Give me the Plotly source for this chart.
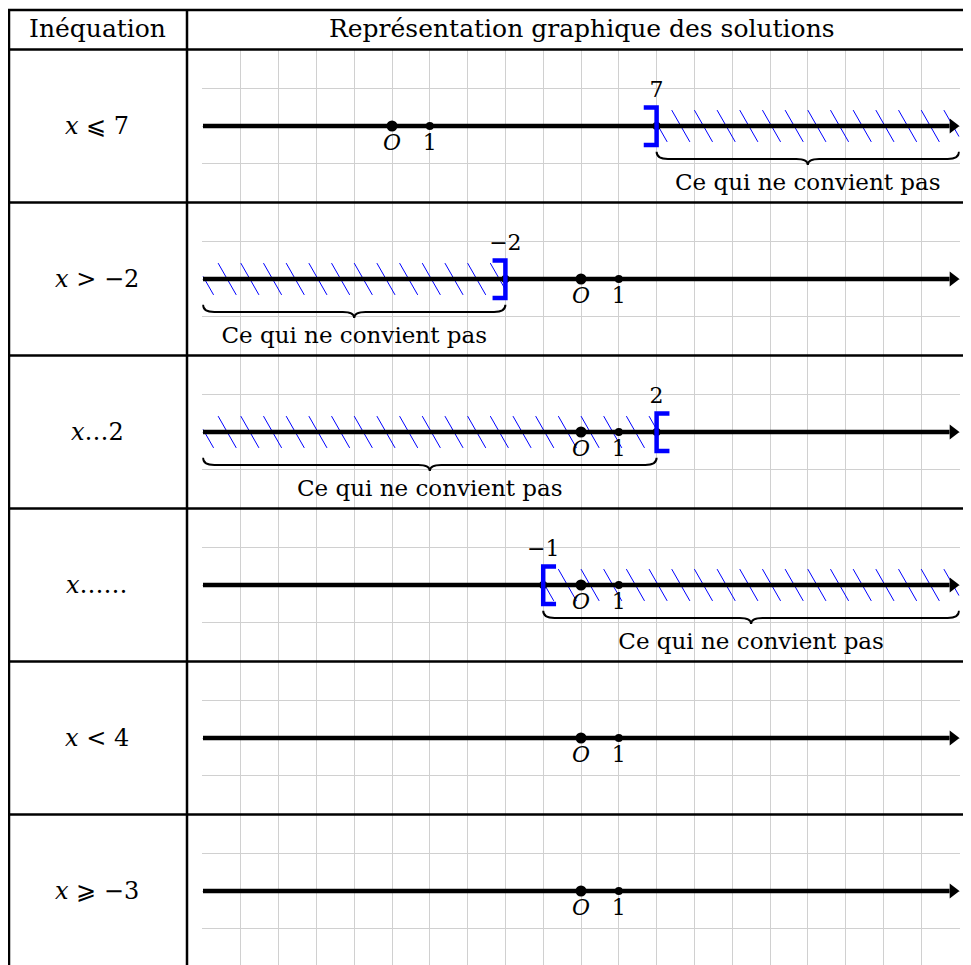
import plotly.graph_objects as go

# --- data -------------------------------------------------------------
header = ["Inéquation", "Représentation graphique des solutions"]
inequations = ["<i>x</i> ⩽ 7", "<i>x</i> &gt; −2", "<i>x</i>…2",
               "<i>x</i>……", "<i>x</i> &lt; 4", "<i>x</i> ⩾ −3"]
axis_min = [-5, -10, -10, -10, -10, -10]
axis_max = [15, 10, 10, 10, 10, 10]
bound_val = [7, -2, 2, -1, None, None]
bound_lbl = ["7", "−2", "2", "−1", None, None]
bracket = ["]", "]", "[", "[", None, None]
bad_from = [7, -10, -10, -1, None, None]
bad_to = [15, -2, 2, 10, None, None]
note = "Ce qui ne convient pas"

# --- geometry (screen pixels, page body adds an 8px margin) -------------
W, H = 971, 965
OFF = 8
unit = 37.8
grid_left, grid_right = 203, 959
col_left, col_mid = 9, 187
table_top, head_bottom = 10, 49.5
row_h = 153.0
row_tops = [head_bottom + i * row_h for i in range(6)]

serif = "DejaVu Serif"
blue = "#0000ff"
dot = dict(color="black", line=dict(width=0))

fig = go.Figure()


def px(v):
    return (v - OFF) / W


def py(v):
    return 1 - (v - OFF) / H


for i in range(6):
    n = "" if i == 0 else str(i + 1)
    xa, ya = "x" + n, "y" + n
    lo, hi = axis_min[i], axis_max[i]
    axis_px = row_tops[i] + 76.5
    top_px = axis_px - 2 * unit
    bot_px = min(axis_px + 2 * unit, H + OFF)
    y_lo = -(bot_px - axis_px) / unit
    pad = 0.02

    fig.layout["xaxis" + n] = dict(
        domain=[px(grid_left - pad * unit), px(grid_right + pad * unit)],
        range=[lo - pad, hi + pad], anchor=ya, dtick=1, tick0=0,
        showgrid=True, gridcolor="#d0d0d0", gridwidth=1, zeroline=False,
        showline=False, showticklabels=False, ticks="", fixedrange=True)
    fig.layout["yaxis" + n] = dict(
        domain=[max(py(bot_px), 0), py(top_px)], range=[y_lo, 2], anchor=xa,
        dtick=1, tick0=0, showgrid=True, gridcolor="#d0d0d0", gridwidth=1,
        zeroline=False, showline=False, showticklabels=False, ticks="",
        fixedrange=True)

    # hatching of the excluded part
    if bad_from[i] is not None:
        s, e = bad_from[i], bad_to[i]
        hx, hy = [], []
        yt, yb, dx, step = 0.42, -0.42, 0.48, 0.6
        k = -1
        while True:
            x0 = s + 0.4 + k * step
            if x0 > e:
                break
            x1 = x0 + dx
            # clip the segment to [s, e]
            a0, b0, a1, b1 = x0, yt, x1, yb
            if a0 < s:
                b0 = yt + (yb - yt) * (s - x0) / dx
                a0 = s
            if a1 > e:
                b1 = yt + (yb - yt) * (e - x0) / dx
                a1 = e
            if a1 > a0:
                hx += [a0, a1, None]
                hy += [b0, b1, None]
            k += 1
        fig.add_trace(go.Scatter(x=hx, y=hy, mode="lines", xaxis=xa, yaxis=ya,
                                 line=dict(color=blue, width=1), hoverinfo="skip"))

    # the number line and its arrow
    fig.add_trace(go.Scatter(x=[lo, hi - 0.25], y=[0, 0], mode="lines",
                             xaxis=xa, yaxis=ya,
                             line=dict(color="black", width=4.5), hoverinfo="skip"))
    fig.add_trace(go.Scatter(x=[hi - 0.16], y=[0], mode="markers",
                             xaxis=xa, yaxis=ya,
                             marker=dict(symbol="triangle-right", size=13, **dot),
                             hoverinfo="skip"))

    # origin and unit
    fig.add_trace(go.Scatter(x=[0, 1], y=[0, 0], mode="markers",
                             xaxis=xa, yaxis=ya,
                             marker=dict(size=[11, 8], opacity=1, **dot),
                             hoverinfo="skip"))
    fig.add_trace(go.Scatter(x=[0, 1], y=[-0.5, -0.5], mode="text",
                             text=["<i>O</i>", "1"], xaxis=xa, yaxis=ya,
                             textfont=dict(family=serif, size=22, color="black"),
                             hoverinfo="skip"))

    if bound_val[i] is not None:
        b = bound_val[i]
        fig.add_trace(go.Scatter(x=[b], y=[0], mode="markers", xaxis=xa, yaxis=ya,
                                 marker=dict(size=8, opacity=1, **dot), hoverinfo="skip"))
        w = -0.34 if bracket[i] == "]" else 0.34
        fig.add_trace(go.Scatter(x=[b + w, b, b, b + w], y=[0.49, 0.49, -0.5, -0.5],
                                 mode="lines", xaxis=xa, yaxis=ya,
                                 line=dict(color=blue, width=4.5), hoverinfo="skip"))
        fig.add_trace(go.Scatter(x=[b], y=[0.9], mode="text", text=[bound_lbl[i]],
                                 xaxis=xa, yaxis=ya,
                                 textfont=dict(family=serif, size=22, color="black"),
                                 hoverinfo="skip"))

        # brace under the excluded part
        s, e = bad_from[i], bad_to[i]
        m = (s + e) / 2
        r, ye, yl, ytip = 0.3, -0.68, -0.87, -1.03
        path = (f"M {s},{ye} Q {s},{yl} {s + r},{yl} L {m - r},{yl} "
                f"Q {m},{yl} {m},{ytip} Q {m},{yl} {m + r},{yl} "
                f"L {e - r},{yl} Q {e},{yl} {e},{ye}")
        fig.add_shape(type="path", path=path, xref=xa, yref=ya,
                      line=dict(color="black", width=2))
        fig.add_trace(go.Scatter(x=[m], y=[-1.55], mode="text", text=[note],
                                 xaxis=xa, yaxis=ya,
                                 textfont=dict(family=serif, size=23, color="black"),
                                 hoverinfo="skip"))

    # inequation in the left column
    fig.add_annotation(x=px((7 + col_mid) / 2), y=py(axis_px), xref="paper",
                       yref="paper", text=inequations[i], showarrow=False,
                       xanchor="center", yanchor="middle",
                       font=dict(family=serif, size=24, color="black"))

# header
fig.add_annotation(x=px((7 + col_mid) / 2), y=py((table_top + head_bottom) / 2 - 1),
                   xref="paper", yref="paper", text=header[0], showarrow=False,
                   xanchor="center", yanchor="middle",
                   font=dict(family=serif, size=25, color="black"))
fig.add_annotation(x=px(582), y=py((table_top + head_bottom) / 2 - 1),
                   xref="paper", yref="paper", text=header[1], showarrow=False,
                   xanchor="center", yanchor="middle",
                   font=dict(family=serif, size=25, color="black"))

# table rules
hlines = [table_top, head_bottom] + row_tops[1:]
for yv in hlines:
    fig.add_shape(type="line", xref="paper", yref="paper", x0=px(col_left - 1), x1=1,
                  y0=py(yv), y1=py(yv), line=dict(color="black", width=2.5))
for xv in [col_left, col_mid]:
    fig.add_shape(type="line", xref="paper", yref="paper", x0=px(xv), x1=px(xv),
                  y0=py(table_top), y1=0, line=dict(color="black", width=2.5))

fig.update_layout(width=W, height=H, margin=dict(l=0, r=0, t=0, b=0),
                  paper_bgcolor="white", plot_bgcolor="white", showlegend=False)

fig.write_html("out.html")
